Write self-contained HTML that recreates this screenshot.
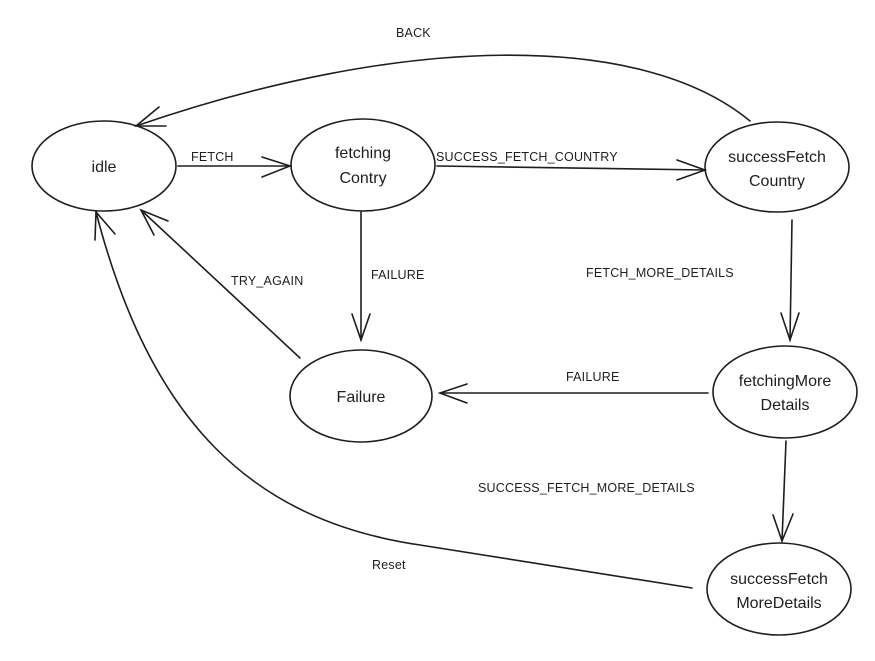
<!DOCTYPE html>
<html><head><meta charset="utf-8"><style>
html,body{margin:0;padding:0;background:#fff}
svg{display:block}
text{font-family:"Liberation Sans","DejaVu Sans",sans-serif;fill:#1e1e1e}
.n{font-size:16px;text-anchor:middle}
.l{font-size:12.5px;letter-spacing:0.2px}
</style></head><body>
<svg width="875" height="661" viewBox="0 0 875 661" xmlns="http://www.w3.org/2000/svg">
<g fill="none" stroke="#1e1e1e" stroke-width="1.6" stroke-linecap="round">
<ellipse cx="104" cy="166" rx="72" ry="45"/>
<ellipse cx="363" cy="165" rx="72" ry="46"/>
<ellipse cx="777" cy="167" rx="72" ry="45"/>
<ellipse cx="361" cy="396" rx="71" ry="46"/>
<ellipse cx="785" cy="392" rx="72" ry="46"/>
<ellipse cx="779" cy="589" rx="72" ry="46"/>
<path d="M750 121 C 640 30, 400 35, 136 126"/>
<path d="M159 107 L136 126 L166 126"/>
<path d="M178 166 L290 166"/><path d="M262 157 L290 166 L262 177"/>
<path d="M437 166 L705 170"/><path d="M677 160 L705 170 L677 180"/>
<path d="M361 212 L361 340"/><path d="M352 314 L361 340 L370 314"/>
<path d="M300 358 L141 210"/><path d="M154 235 L141 210 L168 221"/>
<path d="M792 220 L790 340"/><path d="M781 313 L790 340 L799 313"/>
<path d="M708 393 L440 393"/><path d="M467 384 L440 393 L467 403"/>
<path d="M786 441 L782 541"/><path d="M773 515 L782 541 L793 514"/>
<path d="M692 588 L420 545 C 250 520, 150 420, 96 212"/>
<path d="M95 240 L96 212 L115 234"/>
</g>
<text class="n" x="104" y="172">idle</text>
<text class="n" x="363" y="158">fetching</text>
<text class="n" x="363" y="183">Contry</text>
<text class="n" x="777" y="162">successFetch</text>
<text class="n" x="777" y="186">Country</text>
<text class="n" x="361" y="402">Failure</text>
<text class="n" x="785" y="386">fetchingMore</text>
<text class="n" x="785" y="410">Details</text>
<text class="n" x="779" y="584">successFetch</text>
<text class="n" x="779" y="608">MoreDetails</text>
<text class="l" x="396" y="37">BACK</text>
<text class="l" x="191" y="161">FETCH</text>
<text class="l" x="436" y="161">SUCCESS_FETCH_COUNTRY</text>
<text class="l" x="371" y="279">FAILURE</text>
<text class="l" x="231" y="285">TRY_AGAIN</text>
<text class="l" x="586" y="277">FETCH_MORE_DETAILS</text>
<text class="l" x="566" y="381">FAILURE</text>
<text class="l" x="478" y="492">SUCCESS_FETCH_MORE_DETAILS</text>
<text class="l" x="372" y="569">Reset</text>
</svg>
</body></html>
